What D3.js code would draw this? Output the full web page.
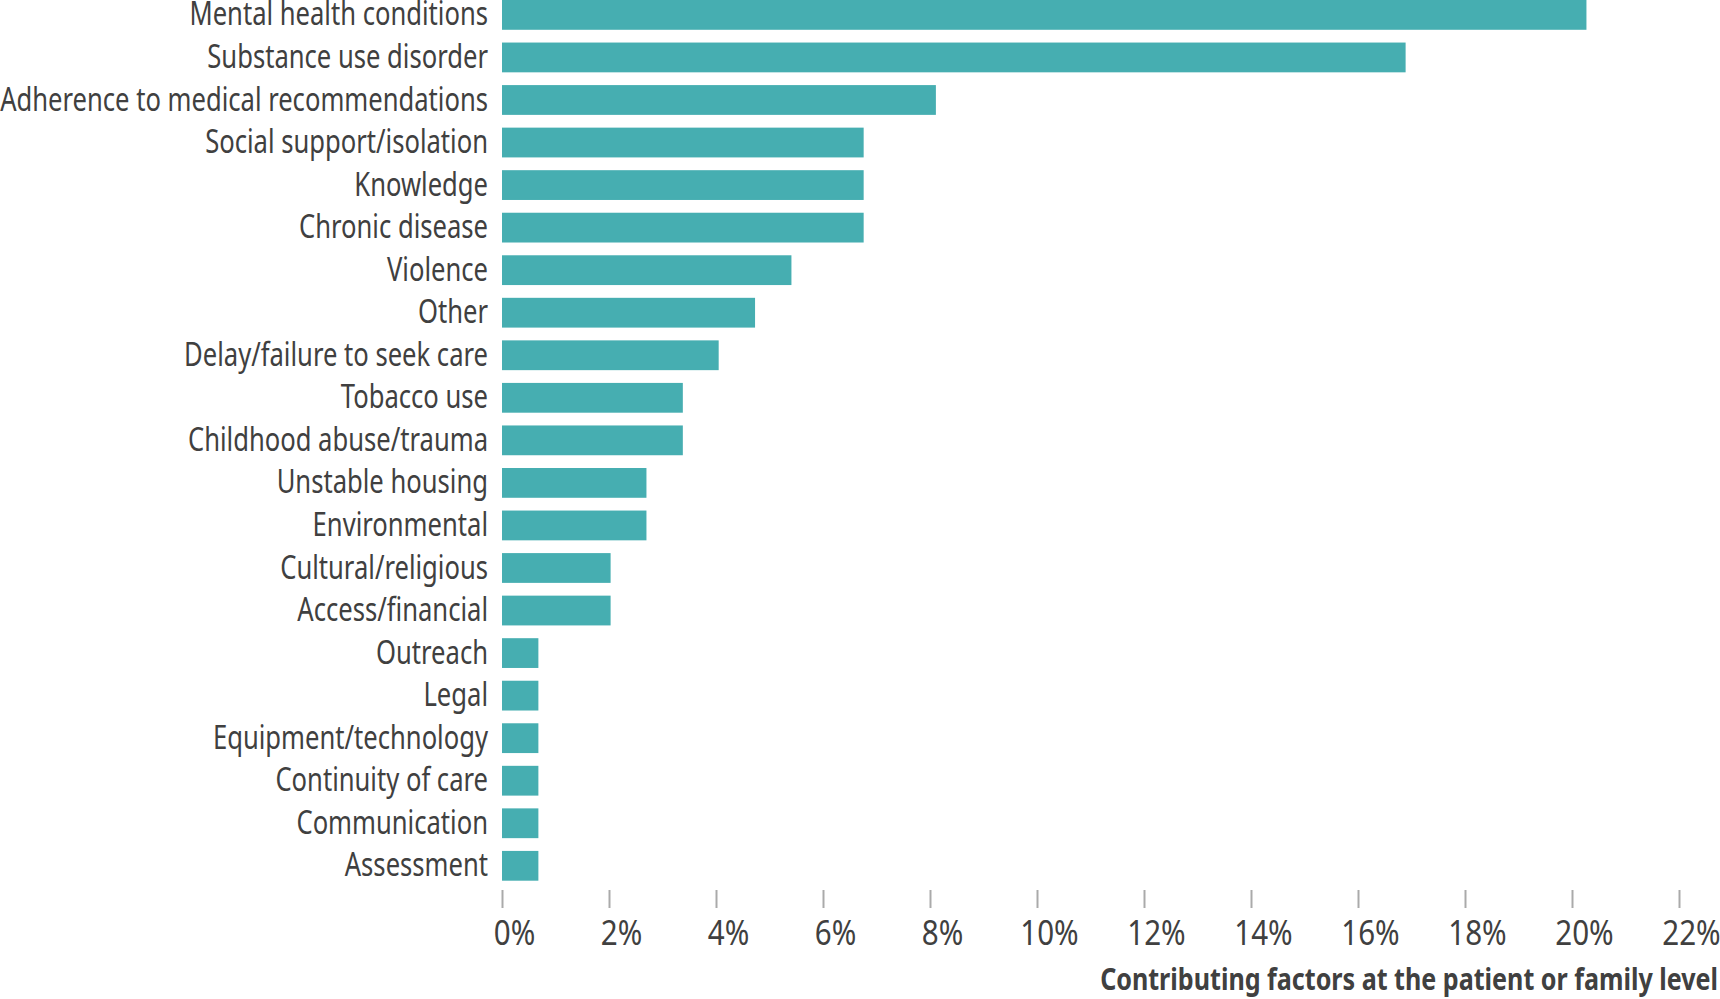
<!DOCTYPE html>
<html>
<head>
<meta charset="utf-8">
<script src="https://cdn.jsdelivr.net/npm/d3@7"></script>
<style>
  body { margin: 0; background: #fff; }
  text { font-family: "Noto Sans", sans-serif; fill: #404040; }
</style>
</head>
<body>
<script>
// categories, top to bottom
var factors = ["Mental health conditions", "Substance use disorder", "Adherence to medical recommendations",
  "Social support/isolation", "Knowledge", "Chronic disease", "Violence", "Other",
  "Delay/failure to seek care", "Tobacco use", "Childhood abuse/trauma", "Unstable housing",
  "Environmental", "Cultural/religious", "Access/financial", "Outreach", "Legal",
  "Equipment/technology", "Continuity of care", "Communication", "Assessment"]

// percent of cases
var shares = [20.27, 16.89, 8.11, 6.76, 6.76, 6.76, 5.41, 4.73, 4.05, 3.38, 3.38, 2.70,
  2.70, 2.03, 2.03, 0.68, 0.68, 0.68, 0.68, 0.68, 0.68]

var ticks = [0, 2, 4, 6, 8, 10, 12, 14, 16, 18, 20, 22]

var axisTitle = "Contributing factors at the patient or family level"

function draw(){
    var data = factors.map(function(f, i) { return {name: f, value: shares[i]} })

    var svg = d3.select("body").append("svg")
                .attr("width", 1720)
                .attr("height", 999)

    var xScale = d3.scaleLinear()
                   .domain([0, 22])
                   .range([502, 1679])

    var yScale = d3.scaleBand()
                   .domain(factors)
                   .range([0, 880.7])
                   .paddingInner(0.3)

    svg.selectAll(".bar")
       .data(data)
       .enter()
       .append("rect")
       .attr("class", "bar")
       .attr("x", xScale(0))
       .attr("y", function(d) { return yScale(d.name) })
       .attr("width", function(d) { return xScale(d.value) - xScale(0) })
       .attr("height", yScale.bandwidth())
       .attr("fill", "#46aeb1")

    // category labels (the original face is condensed, so squeeze it)
    svg.selectAll(".label")
       .data(data)
       .enter()
       .append("text")
       .attr("class", "label")
       .attr("transform", function(d) {
           return "translate(488," + (yScale(d.name) + yScale.bandwidth() / 2) + ") scale(0.8,1)"
       })
       .attr("dy", "0.33em")
       .attr("text-anchor", "end")
       .style("font-size", "32px")
       .text(function(d) { return d.name })

    var xAxis = svg.append("g")
                   .attr("transform", "translate(0,890)")
                   .call(d3.axisBottom(xScale)
                           .tickValues(ticks)
                           .tickSize(18)
                           .tickFormat(function(d) { return d + "%" }))

    xAxis.select(".domain").remove()
    xAxis.selectAll(".tick line").attr("stroke", "#aaaaaa").attr("stroke-width", 2)
    xAxis.selectAll(".tick text")
         .attr("y", null)
         .attr("dy", null)
         .attr("transform", "translate(12,55) scale(0.87,1)")
         .attr("fill", "#404040")
         .style("font-size", "34px")
         .style("font-family", "\"Noto Sans\", sans-serif")

    svg.append("text")
       .attr("transform", "translate(1718,990) scale(0.81,1)")
       .attr("text-anchor", "end")
       .style("font-size", "31px")
       .style("font-weight", "bold")
       .text(axisTitle)
}

draw()
</script>
</body>
</html>
